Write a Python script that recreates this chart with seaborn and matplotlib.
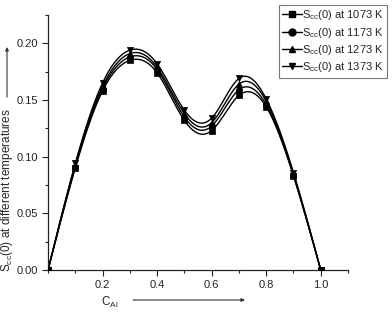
import numpy as np
import pandas as pd
import matplotlib
matplotlib.use('Agg')
import matplotlib.pyplot as plt
from matplotlib.lines import Line2D
from matplotlib.ticker import MultipleLocator
import seaborn as sns

# concentration of Al
c_al = [0.0, 0.1, 0.2, 0.3, 0.4, 0.5, 0.6, 0.7, 0.8, 0.9, 1.0]

# Scc(0), one list per temperature
scc_1073 = [0.0, 0.090, 0.158, 0.185, 0.174, 0.132, 0.123, 0.154, 0.144, 0.083, 0.0]
scc_1173 = [0.0, 0.091, 0.160, 0.188, 0.177, 0.135, 0.127, 0.159, 0.146, 0.084, 0.0]
scc_1273 = [0.0, 0.093, 0.162, 0.191, 0.179, 0.138, 0.130, 0.164, 0.149, 0.085, 0.0]
scc_1373 = [0.0, 0.094, 0.165, 0.194, 0.182, 0.141, 0.134, 0.169, 0.151, 0.086, 0.0]

temps = ['1073', '1173', '1273', '1373']
series = [scc_1073, scc_1173, scc_1273, scc_1373]
markers = ['s', 'o', '^', 'v']


def spline(x, y, xs):
    # natural cubic spline, only used to draw the smooth line through the points
    x = np.asarray(x, float)
    y = np.asarray(y, float)
    n = len(x)
    h = np.diff(x)
    A = np.zeros((n, n))
    b = np.zeros(n)
    A[0, 0] = A[-1, -1] = 1
    for i in range(1, n - 1):
        A[i, i - 1] = h[i - 1]
        A[i, i] = 2 * (h[i - 1] + h[i])
        A[i, i + 1] = h[i]
        b[i] = 6 * ((y[i + 1] - y[i]) / h[i] - (y[i] - y[i - 1]) / h[i - 1])
    M = np.linalg.solve(A, b)
    k = np.clip(np.searchsorted(x, xs) - 1, 0, n - 2)
    t0 = xs - x[k]
    t1 = x[k + 1] - xs
    hk = h[k]
    return (M[k] * t1**3 / (6 * hk) + M[k + 1] * t0**3 / (6 * hk)
            + (y[k] / hk - M[k] * hk / 6) * t1 + (y[k + 1] / hk - M[k + 1] * hk / 6) * t0)


sns.set_style('ticks')
plt.rcParams['font.family'] = ['Liberation Sans', 'DejaVu Sans']
plt.rcParams['mathtext.fontset'] = 'custom'
plt.rcParams['mathtext.rm'] = 'Liberation Sans'

fig = plt.figure(figsize=(3.92, 3.12), dpi=100)
ax = fig.add_axes([48 / 392, 1 - 270 / 312, 300 / 392, 255 / 312])

xs = np.linspace(0, 1, 301)
handles = []
for t, s, m in zip(temps, series, markers):
    df = pd.DataFrame({'c': xs, 's': spline(c_al, s, xs)})
    sns.lineplot(data=df, x='c', y='s', ax=ax, color='black', lw=1.0)
    pts = pd.DataFrame({'c': c_al, 's': s})
    sns.scatterplot(data=pts, x='c', y='s', ax=ax, marker=m, color='black',
                    s=20, edgecolor='black', linewidth=0.5, zorder=3)
    handles.append(Line2D([], [], color='black', lw=1.0, marker=m, markersize=5,
                          label=r'S$_{\mathregular{cc}}$(0) at ' + t + ' K'))

ax.set_xlim(0, 1.1)
ax.set_ylim(0, 0.225)
ax.set_xticks([0.2, 0.4, 0.6, 0.8, 1.0])
ax.xaxis.set_minor_locator(MultipleLocator(0.1))
ax.set_yticks([0.0, 0.05, 0.10, 0.15, 0.20])
ax.set_yticklabels(['0.00', '0.05', '0.10', '0.15', '0.20'])
ax.yaxis.set_minor_locator(MultipleLocator(0.025))
ax.tick_params(which='major', length=4, width=0.8, labelsize=8, colors='#222222', pad=3)
ax.tick_params(which='minor', length=2.5, width=0.8, colors='#222222')
sns.despine(ax=ax)
for sp in ['left', 'bottom']:
    ax.spines[sp].set_linewidth(0.9)
    ax.spines[sp].set_color('#222222')
ax.set_xlabel('')
ax.set_ylabel('')

# axis titles with arrows
fig.text(110 / 392, 1 - 302 / 312, r'C$_{\mathregular{Al}}$', fontsize=8.5,
         ha='center', va='center')
ax.annotate('', xy=(245 / 392, 1 - 300 / 312), xytext=(133 / 392, 1 - 300 / 312),
            xycoords='figure fraction',
            arrowprops=dict(arrowstyle='-|>', color='#333333', lw=0.8,
                            mutation_scale=5, shrinkA=0, shrinkB=0))
fig.text(7 / 392, 1 - 190 / 312, r'S$_{\mathregular{cc}}$(0) at different temperatures',
         fontsize=8.5, rotation=90, ha='center', va='center')
ax.annotate('', xy=(7 / 392, 1 - 47 / 312), xytext=(7 / 392, 1 - 97 / 312),
            xycoords='figure fraction',
            arrowprops=dict(arrowstyle='-|>', color='#333333', lw=0.8,
                            mutation_scale=5, shrinkA=0, shrinkB=0))

leg = ax.legend(handles=handles, loc='upper right', bbox_to_anchor=(387 / 392, 1 - 5 / 312),
                bbox_transform=fig.transFigure, fontsize=8, frameon=True, fancybox=False,
                numpoints=1, handlelength=1.8, handletextpad=0.0, borderpad=0.3,
                labelspacing=0.3, borderaxespad=0)
leg.get_frame().set_edgecolor('#555555')
leg.get_frame().set_linewidth(0.8)

fig.savefig('out.png', dpi=100)
